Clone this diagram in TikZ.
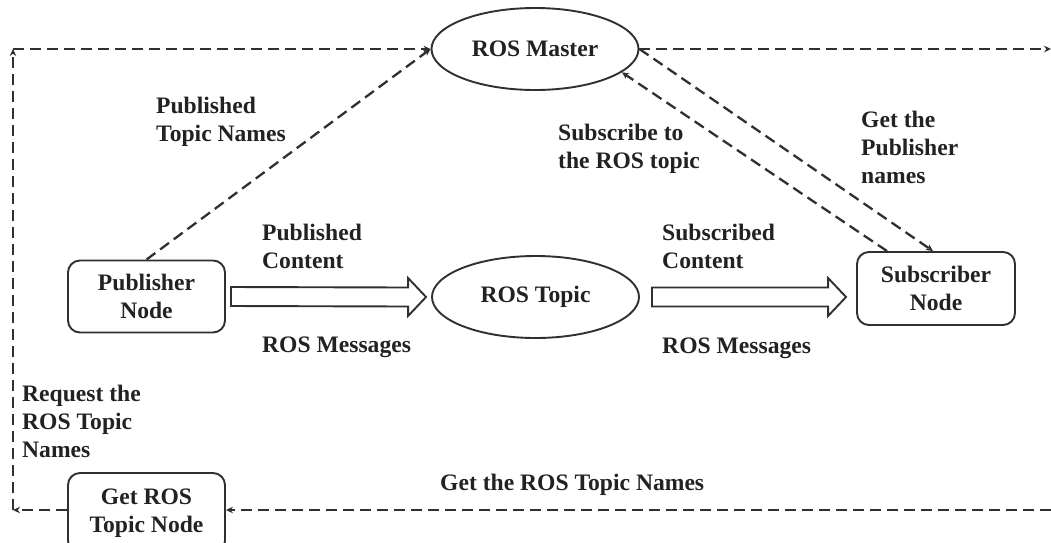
\documentclass[tikz,border=0pt]{standalone}
\usepackage{fontspec}
\setmainfont{Liberation Serif}
\usetikzlibrary{shapes.geometric,arrows.meta,calc}
\definecolor{ink}{HTML}{303030}
\definecolor{textc}{HTML}{222222}

\begin{document}
\begin{tikzpicture}[x=1pt,y=-1pt,
  font=\fontsize{23.6}{28}\selectfont\bfseries,
  every node/.append style={text=textc},
  box/.style={draw=ink, line width=1.9pt, rounded corners=12pt,
    minimum width=157pt, minimum height=72pt, align=center, inner sep=0pt},
  oval/.style={ellipse, draw=ink, line width=1.9pt,
    minimum width=207pt, minimum height=82pt, inner sep=0pt},
  note/.style={anchor=north west, align=left, inner sep=0pt},
  flow/.style={draw=ink, line width=2.3pt, dash pattern=on 11pt off 6pt,
    -{Stealth[length=7pt,width=6.5pt]}},
  hollow/.style={draw=ink, line width=1.9pt, fill=white, line join=miter}]

\useasboundingbox (0,0) rectangle (1051,542);
\fill[white] (0,0) rectangle (1051,542);

% main nodes
\node[oval] (master) at (535,49) {ROS Master};
\node[oval] (topic) at (535.5,297) {ROS Topic};
\node[box] (pub) at (146.5,296.5) {Publisher\\Node};
\node[box, minimum width=158pt, minimum height=73pt] (sub) at (936,288.5) {Subscriber\\Node};
\node[box, minimum height=80pt] (get) at (146.5,513) {Get ROS\\Topic Node};

% corners of the outer loop
\coordinate (tl) at (13,49);
\coordinate (bl) at (13,510);
\coordinate (tr) at (1051,49);
\coordinate (br) at (1051,510);

% dashed control connections
\draw[flow] (get.west |- bl) -- (bl);
\draw[flow] (bl) -- (tl);
\draw[flow] (tl) -- (master.west);
\draw[flow] (master.east) -- (tr);
\draw[flow] (br) -- (get.east |- br);
\draw[flow] (pub.north) -- (master.west);
\draw[flow] ($(sub.north)+(-49,0)$) -- (master.-15);
\draw[flow] (master.east) -- ($(sub.north)+(-3,0)$);

% hollow data arrows
\draw[hollow] ($(pub.east)+(5,-9.5)$) -- ($(topic.west)+(-23,-9.5)$)
  -- ($(topic.west)+(-23,-19)$) -- ($(topic.west)+(-5,0)$)
  -- ($(topic.west)+(-23,19)$) -- ($(topic.west)+(-23,9.5)$)
  -- ($(pub.east)+(5,9.5)$) -- cycle;
\coordinate (tip2) at ($(topic.east -| sub.west)+(-10,0)$);
\draw[hollow] ($(topic.east)+(12,-9.5)$) -- ($(tip2)+(-18,-9.5)$)
  -- ($(tip2)+(-18,-19)$) -- (tip2)
  -- ($(tip2)+(-18,19)$) -- ($(tip2)+(-18,9.5)$)
  -- ($(topic.east)+(12,9.5)$) -- cycle;

% labels
\node[note] (ptn) at (156,97) {Published\\Topic Names};
\node[note] (pc) at (262,224) {Published\\Content};
\node[note] (rm1) at (262,337) {ROS Messages};
\node[note] (sc) at (662,224) {Subscribed\\Content};
\node[note] (rm2) at (662,338) {ROS Messages};
\node[note] (srt) at (558,124) {Subscribe to\\the ROS topic};
\node[note] (gpn) at (861,111) {Get the\\Publisher\\names};
\node[note] (rtn) at (22,385) {Request the\\ROS Topic\\Names};
\node[note] (gtn) at (440,474) {Get the ROS Topic Names};
\end{tikzpicture}
\end{document}
